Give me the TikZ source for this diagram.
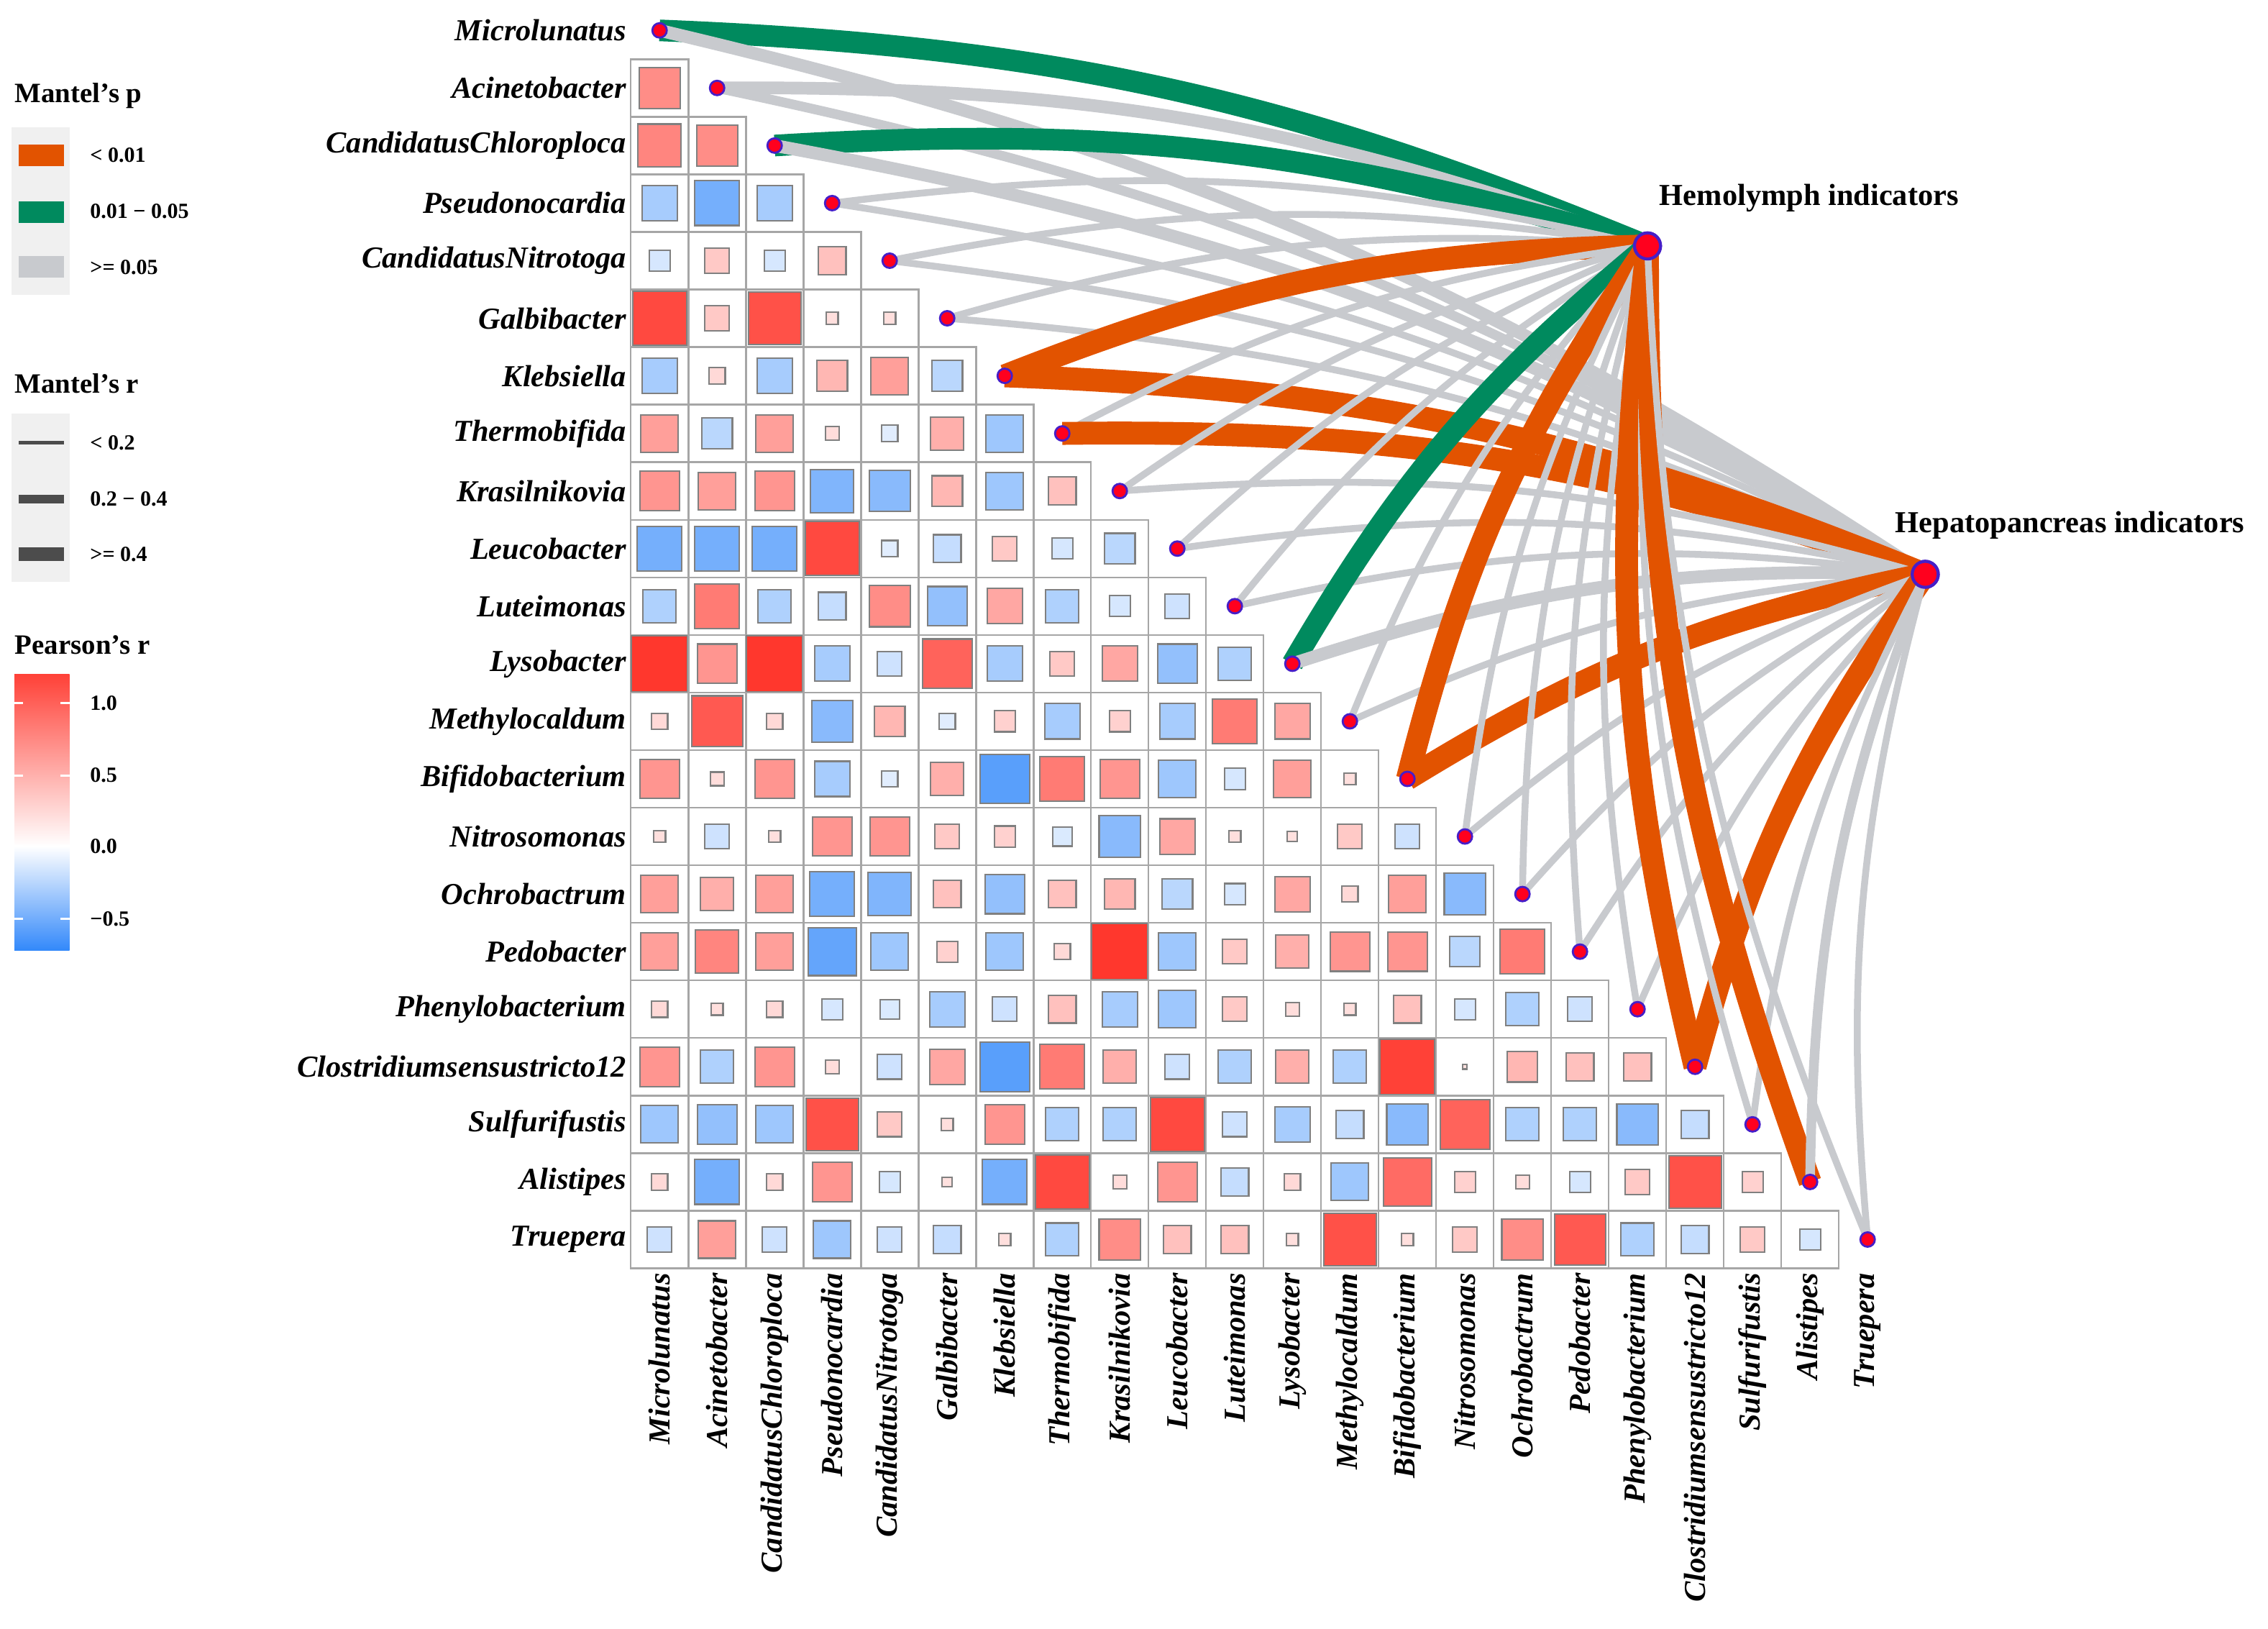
\documentclass[tikz,border=0pt]{standalone}
\usepackage{fontspec}
\setmainfont{Liberation Serif}
\definecolor{redc}{RGB}{255,55,45}
\definecolor{bluec}{RGB}{40,130,250}
\definecolor{orangeE}{RGB}{226,83,0}
\definecolor{greenE}{RGB}{0,138,94}
\definecolor{grayE}{RGB}{200,202,206}
\definecolor{dotred}{RGB}{255,0,30}
\definecolor{dotblue}{RGB}{70,30,200}
\definecolor{legbg}{RGB}{240,240,240}
\begin{document}
\begin{tikzpicture}[x=0.02cm,y=0.02cm,
  rowlab/.style={anchor=east,font=\fontsize{12}{14}\selectfont\bfseries\itshape,inner sep=1pt},
  collab/.style={anchor=east,rotate=90,font=\fontsize{12}{14}\selectfont\bfseries\itshape,inner sep=1pt},
  cellb/.style={draw=black!35,line width=0.7pt},
  dotn/.style={circle,fill=dotred,draw=dotblue,line width=0.8pt,minimum size=0.2cm,inner sep=0pt},
  hubn/.style={circle,fill=dotred,draw=dotblue,line width=1.2pt,minimum size=0.36cm,inner sep=0pt},
  hublab/.style={font=\fontsize{12}{14}\selectfont\bfseries,anchor=west,inner sep=0pt},
  legt/.style={font=\fontsize{11}{13}\selectfont\bfseries,anchor=west,inner sep=0pt},
  legl/.style={font=\fontsize{8.5}{10}\selectfont\bfseries,anchor=west,inner sep=0pt},
  eo/.style={draw=orangeE,line width=9pt},
  eg/.style={draw=greenE,line width=8.5pt},
  gk/.style={draw=grayE,line width=5pt},
  gm/.style={draw=grayE,line width=3.8pt},
  gt/.style={draw=grayE,line width=2.7pt}]
\useasboundingbox (0,0) rectangle (1568,-1126);

% hubs
\node[hubn] (hemo) at (1139,-170) {};
\node[hubn] (hepa) at (1331,-397) {};
\node[hublab] (hemolab) at (1147,-137) {Hemolymph indicators};
\node[hublab] (hepalab) at (1310,-363) {Hepatopancreas indicators};

% dots and labels
\foreach \nm [count=\i from 0] in {Microlunatus,Acinetobacter,CandidatusChloroploca,Pseudonocardia,CandidatusNitrotoga,Galbibacter,Klebsiella,Thermobifida,Krasilnikovia,Leucobacter,Luteimonas,Lysobacter,Methylocaldum,Bifidobacterium,Nitrosomonas,Ochrobactrum,Pedobacter,Phenylobacterium,Clostridiumsensustricto12,Sulfurifustis,Alistipes,Truepera}{
  \pgfmathsetmacro\cx{456+39.77*\i}
  \pgfmathsetmacro\cy{-(21+39.8*\i)}
  \coordinate (d\i) at (\cx,\cy);
  \node[rowlab] (r\i) at (435,\cy) {\nm};
  \node[collab] (c\i) at (\cx,-878) {\nm};
}

% edges
\foreach \i/\a/\b in {0/eg/gk,1/gk/gm,2/eg/gk,3/gt/gt,4/gt/gt,5/gt/gt,6/eo/eo,7/gt/eo,8/gt/gt,9/gt/gt,10/gt/gt,11/eg/gk,12/gt/gt,13/eo/eo,14/gt/gt,15/gt/gt,16/gt/gt,17/gt/gt,18/eo/eo,19/gt/gt,20/eo/gm,21/gt/gt}{
  \draw[\a] (d\i) to[bend left=10] (hemo.center);
  \draw[\b] (d\i) to[bend left=10] (hepa.center);
}

% correlation cells
\foreach \row [count=\i] in {
{0.5},
{0.55,0.5},
{-0.35,-0.6,-0.35},
{-0.1,0.15,-0.1,0.2},
{0.9,0.15,0.85,0.02,0.02},
{-0.35,0.05,-0.35,0.25,0.4,-0.25},
{0.4,-0.25,0.4,0.03,-0.05,0.3,-0.4},
{0.45,0.4,0.45,-0.55,-0.5,0.25,-0.4,0.2},
{-0.6,-0.6,-0.6,0.9,-0.05,-0.2,0.15,-0.1,-0.25},
{-0.3,0.6,-0.3,-0.2,0.5,-0.45,0.35,-0.3,-0.1,-0.15},
{1.0,0.45,1.0,-0.35,-0.15,0.75,-0.35,0.15,0.35,-0.45,-0.3},
{0.05,0.8,0.05,-0.5,0.25,-0.05,0.1,-0.35,0.1,-0.35,0.6,0.35},
{0.45,0.03,0.45,-0.35,-0.05,0.3,-0.75,0.6,0.45,-0.4,-0.1,0.4,0.02},
{0.02,-0.15,0.02,0.45,0.45,0.15,0.1,-0.08,-0.5,0.35,0.02,0.01,0.15,-0.15},
{0.4,0.3,0.4,-0.6,-0.55,0.2,-0.45,0.2,0.25,-0.25,-0.1,0.35,0.05,0.4,-0.5},
{0.4,0.55,0.4,-0.7,-0.4,0.1,-0.4,0.05,1.0,-0.4,0.15,0.3,0.45,0.45,-0.25,0.6},
{0.05,0.02,0.05,-0.1,-0.08,-0.35,-0.15,0.2,-0.35,-0.4,0.15,0.03,0.02,0.2,-0.1,-0.3,-0.15},
{0.45,-0.3,0.45,0.03,-0.15,0.35,-0.75,0.6,0.3,-0.15,-0.3,0.3,-0.3,0.95,0.0,0.25,0.2,0.2},
{-0.4,-0.45,-0.4,0.85,0.15,0.02,0.45,-0.3,-0.3,0.9,-0.15,-0.35,-0.2,-0.5,0.75,-0.3,-0.3,-0.5,-0.2},
{0.05,-0.6,0.05,0.45,-0.1,0.01,-0.6,0.9,0.03,0.45,-0.2,0.05,-0.4,0.7,0.1,0.03,-0.1,0.15,0.85,0.1},
{-0.15,0.4,-0.15,-0.4,-0.15,-0.2,0.02,-0.3,0.5,0.2,0.2,0.02,0.85,0.02,0.15,0.5,0.8,-0.3,-0.2,0.15,-0.1}}{
  \foreach \v [count=\j from 0] in \row {
    \pgfmathsetmacro\cx{456+39.77*\j}
    \pgfmathsetmacro\cy{-(21+39.8*\i)}
    \draw[cellb] (\cx-19.9,\cy-19.9) rectangle (\cx+19.9,\cy+19.9);
    \pgfmathtruncatemacro\pos{\v>=0}
    \pgfmathtruncatemacro\mix{min(100,(\v>=0?15+85*abs(\v):10+90*abs(\v)))}
    \pgfmathsetmacro\h{min(0.97,0.08+0.9*sqrt(abs(\v)))*19.9}
    \ifnum\pos=1 \def\cc{redc}\else\def\cc{bluec}\fi
    \filldraw[fill=\cc!\mix!white,draw=black!50,line width=0.6pt] (\cx-\h,\cy-\h) rectangle (\cx+\h,\cy+\h);
  }
}

% dots on top
\foreach \i in {0,...,21}{\node[dotn] at (d\i) {};}
\node[hubn] at (hemo) {};
\node[hubn] at (hepa) {};

% legend: Mantel's p
\node[legt] (lp) at (10,-66) {Mantel's p};
\fill[legbg] (8,-88) rectangle (48,-204);
\fill[orangeE] (13,-100) rectangle (44,-115);
\fill[greenE] (13,-139) rectangle (44,-154);
\fill[grayE] (13,-177) rectangle (44,-192);
\node[legl] at (62,-107) {< 0.01};
\node[legl] at (62,-146) {0.01 − 0.05};
\node[legl] at (62,-185) {>= 0.05};
% Mantel's r
\node[legt] (lr) at (10,-265) {Mantel's r};
\fill[legbg] (8,-286) rectangle (48,-402);
\draw[black!70,line width=1.6pt] (13,-306) -- (44,-306);
\draw[black!70,line width=3.6pt] (13,-345) -- (44,-345);
\draw[black!70,line width=5.6pt] (13,-383) -- (44,-383);
\node[legl] at (62,-306) {< 0.2};
\node[legl] at (62,-345) {0.2 − 0.4};
\node[legl] at (62,-383) {>= 0.4};
% Pearson's r
\node[legt] (lpr) at (10,-446) {Pearson's r};
\shade[top color=redc!95!white,bottom color=white] (10,-466) rectangle (48,-585);
\shade[top color=white,bottom color=bluec!95!white] (10,-585) rectangle (48,-657);
\foreach \yy/\lb in {-486/1.0,-536/0.5,-585/0.0,-635/−0.5}{
  \draw[white,line width=0.8pt] (10,\yy) -- (16,\yy) (42,\yy) -- (48,\yy);
  \node[legl] at (62,\yy) {\lb};
}
\end{tikzpicture}
\end{document}
